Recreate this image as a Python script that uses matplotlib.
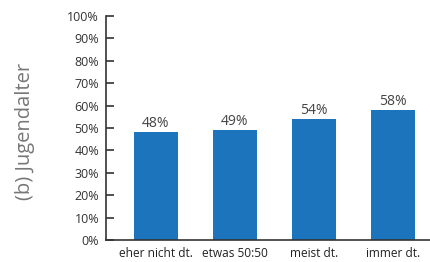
import matplotlib

matplotlib.use("Agg")
import matplotlib.pyplot as plt
import numpy as np

categories = ["eher nicht dt.", "etwas 50:50", "meist dt.", "immer dt."]
values = [48, 49, 54, 58]
yticks = list(range(0, 101, 10))

plt.rcParams["font.family"] = ["Open Sans", "DejaVu Sans"]

fig = plt.figure(figsize=(4.31, 2.62), dpi=100)
ax = fig.add_axes([0.246, 0.084, 0.754, 0.855])

x = np.arange(len(categories))
ax.bar(x, values, width=0.56, color="#1c75bc", zorder=2)
for xi, v in zip(x, values):
    ax.text(xi, v + 0.6, f"{v}%", ha="center", va="bottom", fontsize=10, color="#444444")

ax.set_xlim(-0.63, 3.48)
ax.set_ylim(0, 100)
ax.set_yticks(yticks)
ax.set_yticklabels([f"{t}%" for t in yticks], fontsize=9, color="#333333")
ax.set_xticks(x)
ax.set_xticklabels(categories, fontsize=8.6, color="#222222")
ax.tick_params(axis="x", length=0, pad=5)
ax.tick_params(axis="y", direction="in", length=6, width=1.2, color="#333333", pad=5)

for side in ["top", "right"]:
    ax.spines[side].set_visible(False)
for side in ["left", "bottom"]:
    ax.spines[side].set_color("#333333")
    ax.spines[side].set_linewidth(1.2)

fig.text(0.057, 0.5, "(b) Jugendalter", rotation=90, ha="center", va="center",
         fontsize=14.5, color="#777777")

fig.savefig("out.png", dpi=100)
